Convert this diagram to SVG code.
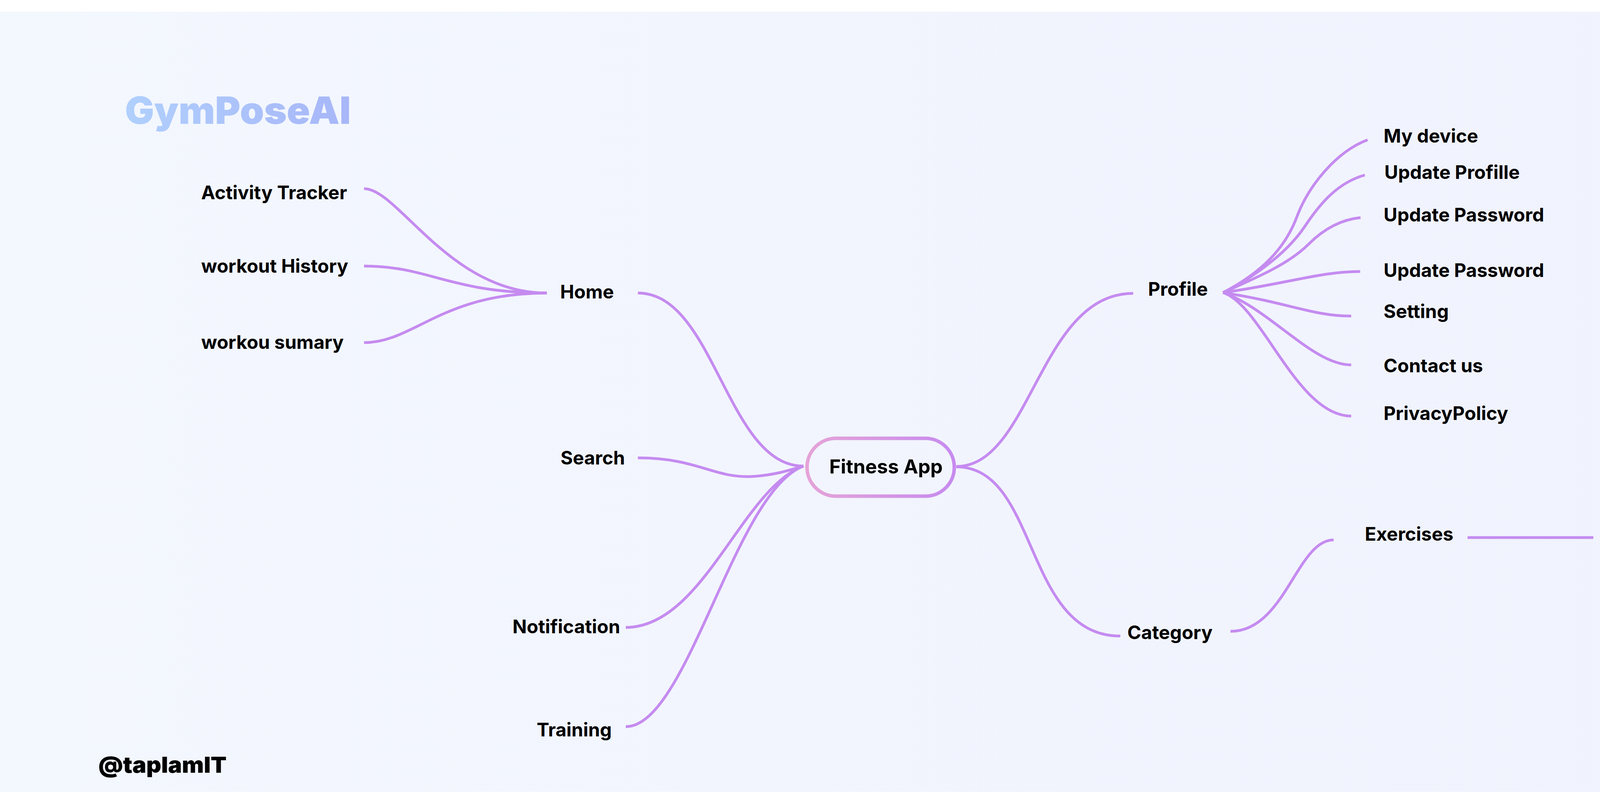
<svg xmlns="http://www.w3.org/2000/svg" width="4744" height="2058" viewBox="0 0 4744 2058">
  <defs>
    <linearGradient id="bg" x1="0" y1="0" x2="1" y2="0">
      <stop offset="0" stop-color="#F3F7FE"/>
      <stop offset="1" stop-color="#F0F2FD"/>
    </linearGradient>
    <linearGradient id="title" x1="0" y1="0" x2="1" y2="0">
      <stop offset="0" stop-color="#B0D0FD"/>
      <stop offset="1" stop-color="#A7B6F8"/>
    </linearGradient>
    <linearGradient id="pill" x1="0" y1="0" x2="1" y2="0">
      <stop offset="0" stop-color="#E5A3D7"/>
      <stop offset="1" stop-color="#C78BEF"/>
    </linearGradient>
    <style>
      .lbl { font-family: Inter, "Liberation Sans", sans-serif; font-weight: 700; font-size: 48px; fill: #000000; }
      .root { font-family: Inter, "Liberation Sans", sans-serif; font-weight: 700; font-size: 50px; fill: #000000; }
      .conn path, .conn line { fill: none; stroke: #C58BF0; stroke-width: 7; stroke-linecap: butt; }
    </style>
  </defs>

  <rect x="0" y="0" width="4744" height="2058" fill="#FFFFFF"/>
  <rect x="0" y="30" width="4744" height="1997" fill="url(#bg)"/>

  <text x="320" y="317" font-family="Inter, 'Liberation Sans', sans-serif" font-weight="900" font-size="96" fill="url(#title)" textLength="578" lengthAdjust="spacingAndGlyphs">GymPoseAI</text>
  <text x="252" y="1978" font-family="Inter, 'Liberation Sans', sans-serif" font-weight="900" font-size="57" fill="#000000" textLength="328" lengthAdjust="spacingAndGlyphs">@taplamIT</text>

  <g id="connectors" class="conn">
    <!-- Home children -->
    <path d="M932,483 C1020,483 1150,750 1400,750"/>
    <path d="M932,681 C1100,681 1150,750 1400,750"/>
    <path d="M932,877 C1060,877 1130,750 1400,750"/>
    <!-- root left -->
    <path d="M1633,750 C1830,750 1860,1193 2057,1193"/>
    <path d="M1633,1172 C1790,1172 1830,1228 1935,1219 C1995,1214 2030,1200 2057,1193"/>
    <path d="M1602,1606 C1800,1606 1900,1250 2057,1193"/>
    <path d="M1602,1860 C1760,1860 1880,1260 2057,1193"/>
    <!-- root right -->
    <path d="M2448,1194 C2640,1194 2660,751 2901,751"/>
    <path d="M2448,1195 C2660,1195 2620,1628 2868,1628"/>
    <!-- Profile children -->
    <path d="M3131,749 C3231,697 3290,635 3320,555 C3350,475 3421,388 3501,358"/>
    <path d="M3131,749 C3221,704 3300,640 3340,580 C3380,520 3424,468 3494,448"/>
    <path d="M3131,749 C3221,709 3300,675 3350,625 C3390,585 3433,562 3483,557"/>
    <path d="M3131,749 C3300,725 3380,695 3482,695"/>
    <path d="M3131,749 C3300,775 3360,809 3459,809"/>
    <path d="M3131,749 C3250,790 3360,934 3459,934"/>
    <path d="M3131,749 C3230,780 3320,1065 3459,1065"/>
    <!-- Category children -->
    <path d="M3150,1616 C3290,1616 3320,1382 3414,1382"/>
    <line x1="3757" y1="1376" x2="4079" y2="1376"/>
  </g>

  <g id="node-fitness-app">
    <rect x="2066" y="1122" width="377" height="148" rx="74" ry="74" fill="none" stroke="url(#pill)" stroke-width="9"/>
    <text class="root" x="2123" y="1212">Fitness App</text>
  </g>

  <g id="node-home"><text class="lbl" x="1434" y="764">Home</text></g>
  <g id="node-search"><text class="lbl" x="1435" y="1189">Search</text></g>
  <g id="node-notification"><text class="lbl" x="1312" y="1621">Notification</text></g>
  <g id="node-training"><text class="lbl" x="1374" y="1885">Training</text></g>

  <g id="node-activity-tracker"><text class="lbl" x="515" y="510">Activity Tracker</text></g>
  <g id="node-workout-history"><text class="lbl" x="515" y="698">workout History</text></g>
  <g id="node-workou-sumary"><text class="lbl" x="515" y="893">workou sumary</text></g>

  <g id="node-profile"><text class="lbl" x="2939" y="757">Profile</text></g>
  <g id="node-my-device"><text class="lbl" x="3542" y="365">My device</text></g>
  <g id="node-update-profille"><text class="lbl" x="3544" y="458">Update Profille</text></g>
  <g id="node-update-password-1"><text class="lbl" x="3542" y="567">Update Password</text></g>
  <g id="node-update-password-2"><text class="lbl" x="3542" y="709">Update Password</text></g>
  <g id="node-setting"><text class="lbl" x="3542" y="814">Setting</text></g>
  <g id="node-contact-us"><text class="lbl" x="3542" y="953">Contact us</text></g>
  <g id="node-privacy-policy"><text class="lbl" x="3542" y="1075">PrivacyPolicy</text></g>

  <g id="node-category"><text class="lbl" x="2886" y="1636">Category</text></g>
  <g id="node-exercises"><text class="lbl" x="3494" y="1384">Exercises</text></g>
  <g id="node-exercise-detail"><text class="lbl" x="4122" y="1392">Exercise detail</text></g>
</svg>
